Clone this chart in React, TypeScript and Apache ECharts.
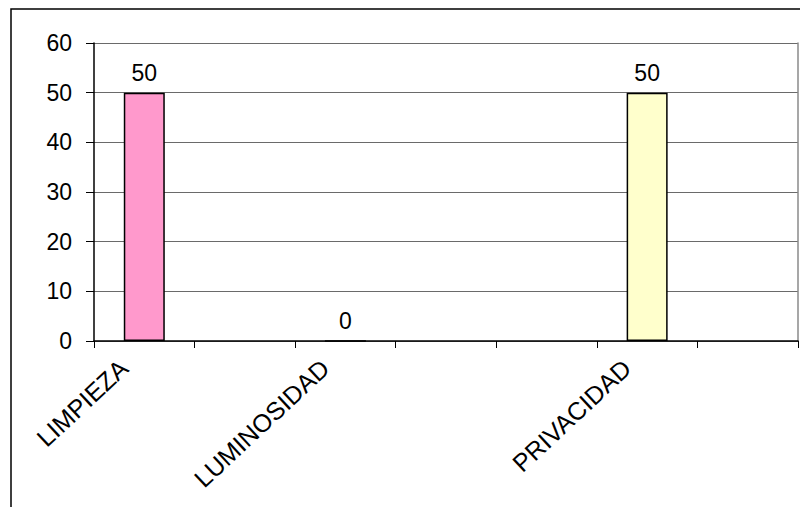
import React, { useEffect, useRef } from "react";
import * as echarts from "echarts";

const categories: string[] = ["LIMPIEZA", "", "LUMINOSIDAD", "", "", "PRIVACIDAD", ""];
const values: (number | null)[] = [50, null, 0, null, null, 50, null];
const barColors: string[] = ["#FF99CC", "#FFFFFF", "#FFFFFF", "#FFFFFF", "#FFFFFF", "#FFFFCC", "#FFFFFF"];
const yMin = 0;
const yMax = 60;
const yInterval = 10;

const FONT = "'Liberation Sans', Arial, sans-serif";

export default function App() {
  const ref = useRef<HTMLDivElement>(null);
  useEffect(() => {
    if (!ref.current) return;
    const chart = echarts.init(ref.current, null, { renderer: "svg" });
    chart.setOption({
      animation: false,
      backgroundColor: "#FFFFFF",
      textStyle: { fontFamily: FONT },
      grid: { left: 94, right: 2, top: 43, bottom: 166, containLabel: false },
      graphic: [
        {
          type: "rect",
          shape: { x: 11, y: 9, width: 1200, height: 1200 },
          style: { fill: "none", stroke: "#000000", lineWidth: 1.5 },
          silent: true,
          z: -1,
        },
      ],
      xAxis: {
        type: "category",
        data: categories,
        boundaryGap: true,
        axisLine: { show: true, lineStyle: { color: "#000000", width: 1.5 } },
        axisTick: { show: true, interval: 0, length: 7, lineStyle: { color: "#000000", width: 1 } },
        axisLabel: {
          interval: 0,
          rotate: 43,
          margin: 4,
          padding: [0, 28, 0, 0],
          color: "#000000",
          fontFamily: FONT,
          fontSize: 25,
        },
        splitLine: { show: false },
      },
      yAxis: [
        {
          type: "value",
          min: yMin,
          max: yMax,
          interval: yInterval,
          axisLine: { show: true, lineStyle: { color: "#000000", width: 1.5 } },
          axisTick: { show: true, inside: false, length: 8, lineStyle: { color: "#000000" } },
          axisLabel: { margin: 22, color: "#000000", fontFamily: FONT, fontSize: 23 },
          splitLine: { show: true, lineStyle: { color: "#6a6a6a", width: 1.2 } },
        },
        {
          type: "value",
          position: "right",
          min: yMin,
          max: yMax,
          interval: yInterval,
          axisLine: { show: true, lineStyle: { color: "#8a8a8a", width: 1.5 } },
          axisTick: { show: false },
          axisLabel: { show: false },
          splitLine: { show: false },
        },
      ],
      series: [
        {
          type: "bar",
          yAxisIndex: 0,
          barWidth: 41,
          data: values.map((v, i) => ({
            value: v,
            itemStyle: { color: barColors[i], borderColor: "#000000", borderWidth: 1.5 },
          })),
          label: {
            show: true,
            position: "top",
            distance: 8,
            color: "#000000",
            fontFamily: FONT,
            fontSize: 23,
            formatter: (p: any) => (p.value === null || p.value === undefined ? "" : String(p.value)),
          },
        },
      ],
    });
    return () => chart.dispose();
  }, []);
  return <div ref={ref} style={{ position: "absolute", left: 0, top: 0, width: 800, height: 507 }} />;
}
